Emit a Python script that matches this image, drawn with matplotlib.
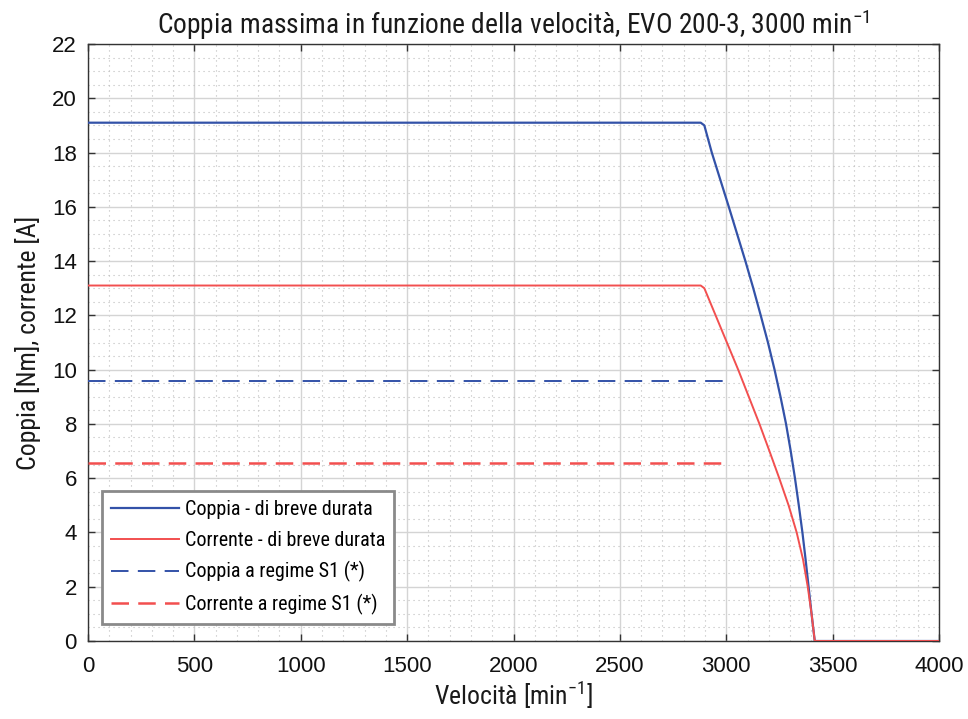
import matplotlib
matplotlib.use("Agg")
import matplotlib.pyplot as plt
from matplotlib import font_manager as fm
from matplotlib.ticker import MultipleLocator

# Speed / value pairs for each curve
speed_torque_peak = [0, 2880, 2897, 2932, 2972, 3012, 3051, 3090, 3127, 3162,
                     3196, 3227, 3255, 3281, 3303, 3323, 3341, 3358, 3373, 3387,
                     3401, 3416, 4000]
torque_peak = [19.1, 19.1, 19.0, 18.0, 17.0, 16.0, 15.0, 14.0, 13.0, 12.0,
               11.0, 10.0, 9.0, 8.0, 7.0, 6.0, 5.0, 4.0, 3.0, 2.0,
               1.0, 0.0, 0.0]

speed_current_peak = [0, 2880, 2897, 2950, 3003, 3056, 3106, 3156, 3203, 3249,
                      3293, 3331, 3361, 3383, 3401, 3416, 4000]
current_peak = [13.1, 13.1, 13.0, 12.0, 11.0, 10.0, 9.0, 8.0, 7.0, 6.0,
                5.0, 4.0, 3.0, 2.0, 1.0, 0.0, 0.0]

speed_s1 = [0, 3000]
torque_s1 = [9.58, 9.58]
current_s1 = [6.56, 6.56]

labels = ["Coppia - di breve durata", "Corrente - di breve durata",
          "Coppia a regime S1 (*)", "Corrente a regime S1 (*)"]

BLUE = "#3352a8"
RED = "#f24f4f"


def narrow_font():
    """Return (file, family name) of a narrow sans face if one exists."""
    prefs = ["Liberation Sans Narrow", "Roboto Condensed", "Open Sans Condensed",
             "Arial Narrow", "Noto Sans Condensed", "DejaVu Sans"]
    cands = []
    for f in fm.fontManager.ttflist:
        stretch = str(f.stretch).lower()
        fname = f.fname.lower()
        is_narrow = ("narrow" in fname or "condensed" in fname or "condensed" in stretch
                     or "narrow" in f.name.lower())
        if not is_narrow:
            continue
        if f.style != "normal" or f.weight not in (400, "normal", "regular"):
            continue
        if "semi" in fname or "extra" in fname or "ultra" in fname:
            continue
        rank = prefs.index(f.name) if f.name in prefs else len(prefs)
        cands.append((rank, f))
    if not cands:
        return None
    cands.sort(key=lambda t: t[0])
    f = cands[0][1]
    return f.fname, f.name


found = narrow_font()
if found:
    NARROW_FILE, NARROW_NAME = found
    k = 1.0
else:
    NARROW_FILE, NARROW_NAME = None, "DejaVu Sans"
    k = 0.82


def fp(size):
    if NARROW_FILE:
        return fm.FontProperties(fname=NARROW_FILE, size=size * k)
    return fm.FontProperties(family="DejaVu Sans", size=size * k)


plt.rcParams["mathtext.fontset"] = "custom"
plt.rcParams["mathtext.rm"] = NARROW_NAME
plt.rcParams["mathtext.it"] = NARROW_NAME

fig = plt.figure(figsize=(9.68, 7.19), dpi=100)
ax = fig.add_axes([88 / 968, 1 - 641 / 719, (939 - 88) / 968, (641 - 44) / 719])

ax.plot(speed_torque_peak, torque_peak, color=BLUE, lw=1.6, label=labels[0], zorder=3)
ax.plot(speed_current_peak, current_peak, color=RED, lw=1.4, label=labels[1], zorder=4)
ax.plot(speed_s1, torque_s1, color=BLUE, lw=1.4, dashes=(9.0, 4.8), label=labels[2], zorder=3)
ax.plot(speed_s1, current_s1, color=RED, lw=1.8, dashes=(7.0, 3.7), label=labels[3], zorder=3)

ax.set_xlim(0, 4000)
ax.set_ylim(0, 22)
ax.xaxis.set_major_locator(MultipleLocator(500))
ax.xaxis.set_minor_locator(MultipleLocator(100))
ax.yaxis.set_major_locator(MultipleLocator(2))
ax.yaxis.set_minor_locator(MultipleLocator(0.5))

ax.grid(which="major", color="#d4d4d4", lw=1.0, zorder=0)
ax.grid(which="minor", color="#bdbdbd", lw=0.8, linestyle=(0, (1, 3.5)), zorder=0)
ax.set_axisbelow(True)

ax.tick_params(which="major", direction="in", length=5, width=1, color="#333333",
               top=True, right=True, labelsize=16, pad=8,
               labelfontfamily="Liberation Sans", labelcolor="#111111")
ax.tick_params(axis="x", which="major", pad=11)
ax.tick_params(which="minor", length=0)
for sp in ax.spines.values():
    sp.set_color("#333333")
    sp.set_linewidth(1.0)

ax.set_title("Coppia massima in funzione della velocità, EVO 200-3, 3000 min$^{-1}$",
             fontproperties=fp(19.8), color="#1a1a1a", pad=7)
ax.set_xlabel("Velocità [min$^{-1}$]", fontproperties=fp(18.5), color="#1a1a1a", labelpad=2)
ax.set_ylabel("Coppia [Nm], corrente [A]", fontproperties=fp(18.5), color="#1a1a1a", labelpad=8)

leg = ax.legend(loc="lower left", bbox_to_anchor=(0.0164, 0.0285), borderaxespad=0,
                fancybox=False, framealpha=1, edgecolor="#8a8a8a", handlelength=3.4,
                handletextpad=0.25, borderpad=0.45, labelspacing=0.57,
                prop=fp(14.5))
leg.get_frame().set_linewidth(2.0)

fig.savefig("out.png", dpi=100, facecolor="white")
